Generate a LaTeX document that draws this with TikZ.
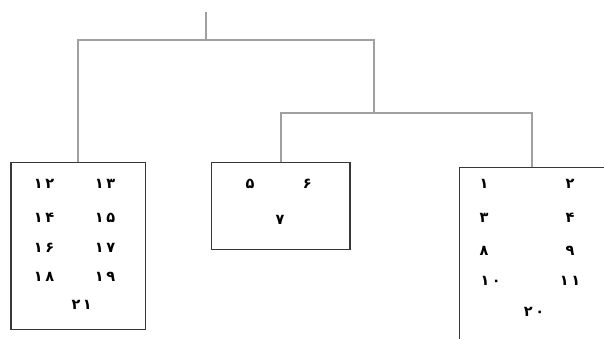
\documentclass[tikz,border=0pt]{standalone}
\usepackage{fontspec}
\usepackage{tikz}
\usetikzlibrary{positioning}
\newfontfamily\arabicfont[Script=Arabic, LetterSpace=18]{DejaVu Sans}
\definecolor{ast}{RGB}{160,160,160}
\definecolor{rahmen}{RGB}{55,55,55}

\begin{document}
\begin{tikzpicture}[x=1pt, y=-1pt,
    kasten/.style={draw=rahmen, line width=1.2pt, rectangle, inner sep=0pt},
    zweig/.style={ast, line width=2pt},
    ziffer/.style={font=\arabicfont\bfseries\fontsize{14.5}{16}\selectfont, inner sep=0pt}]

    \useasboundingbox (0,0) rectangle (604,338);
    \clip (0,0) rectangle (604,338);

				% die drei Gruppen
				\node[kasten, minimum width=134.7pt, minimum height=166.6pt] (links) at (78.35,246) {};
				\node[kasten, minimum width=138.3pt, minimum height=86.6pt] (mitte) at (280.85,206) {};
				\node[kasten, minimum width=145.2pt, minimum height=232.7pt] (rechts) at (532.3,283.65) {};

				\coordinate (wurzel) at (205.7,12);
				\coordinate (v0) at (205.7,40);
				\coordinate (v2) at (374.3,113);

				\draw[zweig] (wurzel) -- (v0);
				\draw[zweig] (links.north) |- (v0) -| (v2);
				\draw[zweig] (mitte.north) |- (v2) -| (rechts.north);

				% links
				\node[ziffer] (a12) at (44,184) {۱۲};
				\node[ziffer] (a13) at (105,184) {۱۳};
				\node[ziffer] (a14) at (44,218) {۱۴};
				\node[ziffer] (a15) at (105,218) {۱۵};
				\node[ziffer] (a16) at (44,248) {۱۶};
				\node[ziffer] (a17) at (105,248) {۱۷};
				\node[ziffer] (a18) at (44,277) {۱۸};
				\node[ziffer] (a19) at (105,277) {۱۹};
				\node[ziffer] (a21) at (81.7,305) {۲۱};

				% mitte
				\node[ziffer] (b5) at (250,184) {۵};
				\node[ziffer] (b6) at (307.3,184) {۶};
				\node[ziffer] (b7) at (280,220) {۷};

				% rechts
				\node[ziffer] (c1) at (484,184) {۱};
				\node[ziffer] (c2) at (570,184) {۲};
				\node[ziffer] (c3) at (484,218) {۳};
				\node[ziffer] (c4) at (570,218) {۴};
				\node[ziffer] (c8) at (484,251) {۸};
				\node[ziffer] (c9) at (570,251) {۹};
				\node[ziffer] (c10) at (490.7,281) {۱۰};
				\node[ziffer] (c11) at (570,281) {۱۱};
				\node[ziffer] (c20) at (534,312) {۲۰};

\end{tikzpicture}
\end{document}
